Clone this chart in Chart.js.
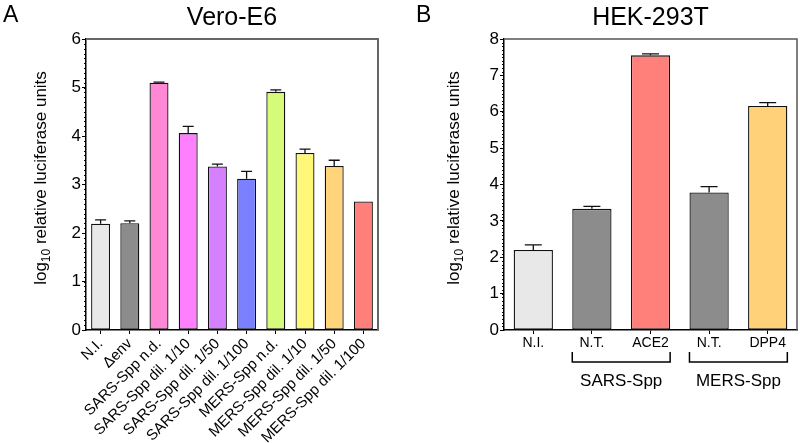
<!DOCTYPE html>
<html>
<head>
<meta charset="utf-8">
<script src="https://cdn.jsdelivr.net/npm/chart.js@4/dist/chart.umd.min.js"></script>
<style>
  body { margin: 0; background: #fff; }
  #wrap { position: relative; width: 800px; height: 443px; font-family: 'Liberation Sans', Arial, sans-serif; }
  canvas { position: absolute; top: 0; }
  .tag { position: absolute; top: 1px; font-size: 23px; color: #000; }
</style>
</head>
<body>
<div id="wrap">
  <canvas id="chartA" width="400" height="443" style="left:0"></canvas>
  <canvas id="chartB" width="400" height="443" style="left:400px"></canvas>
  <div class="tag" style="left:3px">A</div>
  <div class="tag" style="left:416px">B</div>
</div>
<script>
const FAM = "'Liberation Sans', Arial, sans-serif"

// panel A: Vero-E6
const catsA = ['N.I.', 'Δenv', 'SARS-Spp n.d.', 'SARS-Spp dil. 1/10', 'SARS-Spp dil. 1/50', 'SARS-Spp dil. 1/100',
  'MERS-Spp n.d.', 'MERS-Spp dil. 1/10', 'MERS-Spp dil. 1/50', 'MERS-Spp dil. 1/100']
const valsA = [2.19, 2.2, 5.1, 4.06, 3.37, 3.12, 4.91, 3.65, 3.38, 2.65]
const errA = [0.08, 0.05, 0.01, 0.14, 0.05, 0.15, 0.04, 0.08, 0.12, 0]
const colorsA = ['#e8e8e8', '#8c8c8c', '#ff88d6', '#ff80ff', '#d580ff', '#7a80ff', '#d6fa7a', '#fff77a', '#ffd47a', '#ff7f7a']
const yMaxA = 6

// panel B: HEK-293T
const catsB = ['N.I.', 'N.T.', 'ACE2', 'N.T.', 'DPP4']
const valsB = [2.2, 3.33, 7.55, 3.78, 6.16]
const errB = [0.14, 0.07, 0.04, 0.16, 0.09]
const colorsB = ['#e8e8e8', '#8c8c8c', '#ff7f7a', '#8c8c8c', '#ffd27a']
const yMaxB = 8
const groupsB = [
  { label: 'SARS-Spp', from: 1, to: 2 },
  { label: 'MERS-Spp', from: 3, to: 4 }
]

Chart.defaults.font.family = FAM
Chart.defaults.color = '#000'

const errorBars = {
  id: 'errorBars',
  afterDatasetsDraw(chart, args, opts) {
    const ctx = chart.ctx
    const y = chart.scales.y
    const meta = chart.getDatasetMeta(0)
    ctx.save()
    ctx.strokeStyle = '#111'
    ctx.lineWidth = 1.3
    meta.data.forEach((bar, i) => {
      const e = opts.err[i]
      if (!e) return
      const top = y.getPixelForValue(chart.data.datasets[0].data[i] + e)
      ctx.beginPath()
      ctx.moveTo(bar.x, bar.y)
      ctx.lineTo(bar.x, top)
      ctx.moveTo(bar.x - opts.cap / 2, top)
      ctx.lineTo(bar.x + opts.cap / 2, top)
      ctx.stroke()
    })
    ctx.restore()
  }
}

const frame = {
  id: 'frame',
  afterDraw(chart, args, opts) {
    const { ctx, chartArea: a } = chart
    const y = chart.scales.y
    ctx.save()
    // minor ticks
    ctx.strokeStyle = '#000'
    ctx.lineWidth = 1
    for (let v = 0; v <= opts.max + 0.001; v += opts.minor) {
      const py = Math.round(y.getPixelForValue(v)) + 0.5
      ctx.beginPath()
      ctx.moveTo(a.left - 2, py)
      ctx.lineTo(a.left, py)
      ctx.stroke()
    }
    ctx.strokeStyle = opts.color
    ctx.lineWidth = opts.width
    ctx.beginPath()
    ctx.moveTo(a.left, a.top)
    ctx.lineTo(a.right, a.top)
    ctx.lineTo(a.right, a.bottom)
    ctx.stroke()
    ctx.restore()
  }
}

const yTitle = {
  id: 'yTitle',
  afterDraw(chart, args, opts) {
    const ctx = chart.ctx
    ctx.save()
    ctx.translate(opts.x, opts.cy)
    ctx.rotate(-Math.PI / 2)
    ctx.fillStyle = '#000'
    ctx.textBaseline = 'alphabetic'
    ctx.textAlign = 'left'
    const big = '17px ' + FAM
    const small = '12px ' + FAM
    ctx.font = big
    const w1 = ctx.measureText('log').width
    const w3 = ctx.measureText(' relative luciferase units').width
    ctx.font = small
    const w2 = ctx.measureText('10').width
    let x = -(w1 + w2 + w3) / 2
    ctx.font = big
    ctx.fillText('log', x, 0)
    x += w1
    ctx.font = small
    ctx.fillText('10', x, 4)
    x += w2
    ctx.font = big
    ctx.fillText(' relative luciferase units', x, 0)
    ctx.restore()
  }
}

const brackets = {
  id: 'brackets',
  afterDraw(chart, args, opts) {
    if (!opts.groups) return
    const ctx = chart.ctx
    const meta = chart.getDatasetMeta(0)
    ctx.save()
    ctx.strokeStyle = '#000'
    ctx.lineWidth = 1.5
    ctx.fillStyle = '#000'
    ctx.font = '17px ' + FAM
    ctx.textAlign = 'center'
    ctx.textBaseline = 'middle'
    opts.groups.forEach(g => {
      const b0 = meta.data[g.from], b1 = meta.data[g.to]
      const x0 = b0.x - b0.width / 2
      const x1 = b1.x + b1.width / 2
      ctx.beginPath()
      ctx.moveTo(x0, opts.top)
      ctx.lineTo(x0, opts.line)
      ctx.lineTo(x1, opts.line)
      ctx.lineTo(x1, opts.top)
      ctx.stroke()
      ctx.fillText(g.label, (x0 + x1) / 2, opts.text)
    })
    ctx.restore()
  }
}

function makeChart(id, p) {
  return new Chart(document.getElementById(id), {
    type: 'bar',
    data: {
      labels: p.cats,
      datasets: [{
        data: p.vals,
        backgroundColor: p.colors,
        borderColor: '#111',
        borderWidth: 1.3,
        borderSkipped: false,
        categoryPercentage: 1,
        barPercentage: p.barPct
      }]
    },
    options: {
      responsive: false,
      animation: false,
      events: [],
      layout: { padding: { left: 0, right: p.padRight, top: 0, bottom: 0 } },
      plugins: {
        legend: { display: false },
        tooltip: { enabled: false },
        title: {
          display: true,
          text: p.title,
          fullSize: false,
          color: '#000',
          font: { size: 25, weight: 'normal' },
          padding: { top: 3, bottom: 6 }
        },
        errorBars: { err: p.err, cap: p.cap },
        frame: { max: p.yMax, minor: 0.1, color: p.frameColor, width: p.frameWidth },
        yTitle: { x: p.titleX, cy: 178 },
        brackets: { groups: p.groups, top: 352, line: 362, text: 381 }
      },
      scales: {
        x: {
          grid: { offset: false, drawOnChartArea: false, tickLength: 4, tickColor: '#000' },
          border: { color: '#000', width: 1.5 },
          ticks: { font: { size: p.xFont }, minRotation: p.rot, maxRotation: p.rot, autoSkip: false, padding: 1 },
          afterFit: s => { s.height = 113 }
        },
        y: {
          min: 0,
          max: p.yMax,
          grid: { drawOnChartArea: false, tickLength: 4, tickColor: '#000' },
          border: { color: '#000', width: 1.5 },
          ticks: { stepSize: 1, font: { size: 17 }, padding: 1 },
          afterFit: s => { s.width = p.yWidth }
        }
      }
    },
    plugins: [errorBars, frame, yTitle, brackets]
  })
}

makeChart('chartA', {
  cats: catsA, vals: valsA, err: errA, colors: colorsA, yMax: yMaxA,
  title: 'Vero-E6', barPct: 0.65, cap: 11, padRight: 22, yWidth: 86,
  xFont: 15, rot: 45, titleX: 46, frameColor: '#666', frameWidth: 2
})

makeChart('chartB', {
  cats: catsB, vals: valsB, err: errB, colors: colorsB, yMax: yMaxB,
  title: 'HEK-293T', barPct: 0.67, cap: 17, padRight: 3, yWidth: 104,
  xFont: 14, rot: 0, titleX: 59, frameColor: '#555', frameWidth: 1.5, groups: groupsB
})
</script>
</body>
</html>
